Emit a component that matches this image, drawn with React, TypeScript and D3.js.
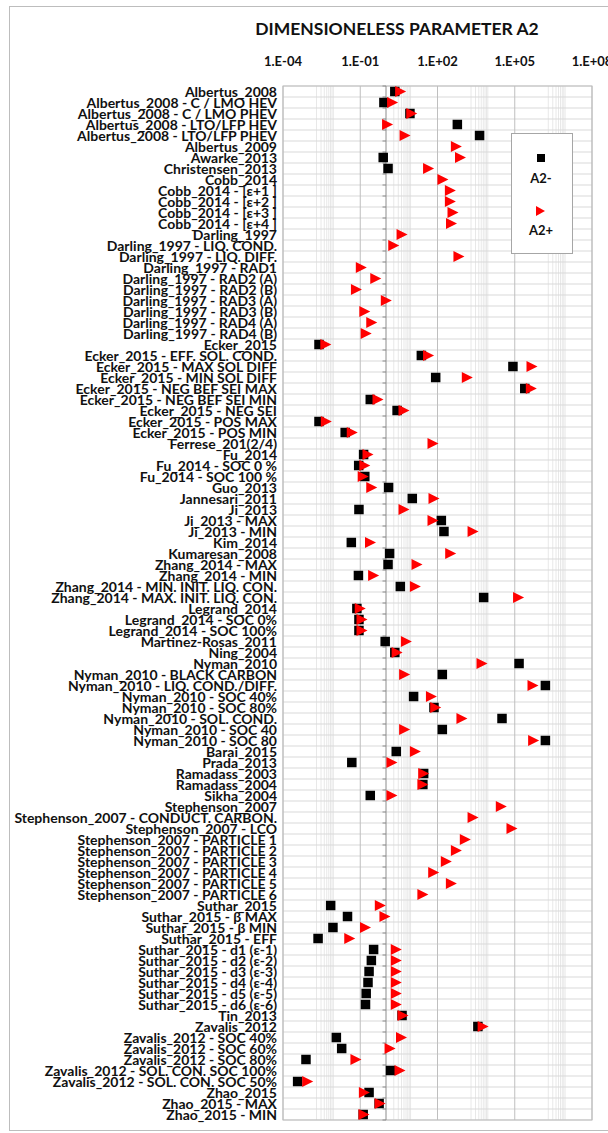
import { useEffect, useRef } from 'react';
import * as d3 from 'd3';

const categories: string[] = [
  'Albertus_2008', 'Albertus_2008 - C / LMO HEV', 'Albertus_2008 - C / LMO PHEV',
  'Albertus_2008 - LTO/LFP HEV', 'Albertus_2008 - LTO/LFP PHEV', 'Albertus_2009',
  'Awarke_2013', 'Christensen_2013', 'Cobb_2014', 'Cobb_2014 - [ε+1 ]', 'Cobb_2014 - [ε+2 ]',
  'Cobb_2014 - [ε+3 ]', 'Cobb_2014 - [ε+4 ]', 'Darling_1997', 'Darling_1997 - LIQ. COND.',
  'Darling_1997 - LIQ. DIFF.', 'Darling_1997 - RAD1', 'Darling_1997 - RAD2 (A)',
  'Darling_1997 - RAD2 (B)', 'Darling_1997 - RAD3 (A)', 'Darling_1997 - RAD3 (B)',
  'Darling_1997 - RAD4 (A)', 'Darling_1997 - RAD4 (B)', 'Ecker_2015',
  'Ecker_2015 - EFF. SOL. COND.', 'Ecker_2015 - MAX SOL DIFF', 'Ecker_2015 - MIN SOL DIFF',
  'Ecker_2015 - NEG BEF SEI MAX', 'Ecker_2015 - NEG BEF SEI MIN', 'Ecker_2015 - NEG SEI',
  'Ecker_2015 - POS MAX', 'Ecker_2015 - POS MIN', 'Ferrese_201(2/4)', 'Fu_2014',
  'Fu_2014 - SOC 0 %', 'Fu_2014 - SOC 100 %', 'Guo_2013', 'Jannesari_2011', 'Ji_2013',
  'Ji_2013 - MAX', 'Ji_2013 - MIN', 'Kim_2014', 'Kumaresan_2008', 'Zhang_2014 - MAX',
  'Zhang_2014 - MIN', 'Zhang_2014 - MIN. INIT. LIQ. CON.', 'Zhang_2014 - MAX. INIT. LIQ. CON.',
  'Legrand_2014', 'Legrand_2014 - SOC 0%', 'Legrand_2014 - SOC 100%', 'Martinez-Rosas_2011',
  'Ning_2004', 'Nyman_2010', 'Nyman_2010 - BLACK CARBON', 'Nyman_2010 - LIQ. COND./DIFF.',
  'Nyman_2010 - SOC 40%', 'Nyman_2010 - SOC 80%', 'Nyman_2010 - SOL. COND.',
  'Nyman_2010 - SOC 40', 'Nyman_2010 - SOC 80', 'Barai_2015', 'Prada_2013', 'Ramadass_2003',
  'Ramadass_2004', 'Sikha_2004', 'Stephenson_2007', 'Stephenson_2007 - CONDUCT. CARBON.',
  'Stephenson_2007 - LCO', 'Stephenson_2007 - PARTICLE 1', 'Stephenson_2007 - PARTICLE 2',
  'Stephenson_2007 - PARTICLE 3', 'Stephenson_2007 - PARTICLE 4', 'Stephenson_2007 - PARTICLE 5',
  'Stephenson_2007 - PARTICLE 6', 'Suthar_2015', 'Suthar_2015 - β MAX', 'Suthar_2015 - β MIN',
  'Suthar_2015 - EFF', 'Suthar_2015 - d1 (ε-1)', 'Suthar_2015 - d2 (ε-2)', 'Suthar_2015 - d3 (ε-3)',
  'Suthar_2015 - d4 (ε-4)', 'Suthar_2015 - d5 (ε-5)', 'Suthar_2015 - d6 (ε-6)', 'Tin_2013',
  'Zavalis_2012', 'Zavalis_2012 - SOC 40%', 'Zavalis_2012 - SOC 60%', 'Zavalis_2012 - SOC 80%',
  'Zavalis_2012 - SOL. CON. SOC 100%', 'Zavalis_2012 - SOL. CON. SOC 50%', 'Zhao_2015',
  'Zhao_2015 - MAX', 'Zhao_2015 - MIN',
];

// A2- (black squares), null = no value
const a2Minus: (number | null)[] = [
  2.2, 0.83, 8.5, 590, 4300, null, 0.78, 1.2, null, null, null, null, null,
  null, null, null, null, null, null, null, null, null, null,
  0.0025, 23.6, 85000, 85, 245000, 0.245, 2.7, 0.0025, 0.026, null,
  0.135, 0.087, 0.15, 1.26, 10.5, 0.089, 141, 178, 0.045, 1.38, 1.2, 0.085, 3.6, 6200,
  0.074, 0.089, 0.089, 0.93, 2.2, 147000, 154, 1.55e6, 11.8, 73, 32000, 154, 1.55e6,
  2.5, 0.047, 29, 27, 0.245, null, null, null, null, null, null, null, null, null,
  0.0071, 0.032, 0.0087, 0.0023, 0.33, 0.27, 0.22, 0.2, 0.17, 0.16, 4.2,
  3700, 0.0118, 0.019, 0.00078, 1.5, 0.00037, 0.22, 0.54, 0.13,
];

// A2+ (red triangles)
const a2Plus: (number | null)[] = [
  3.7, 1.8, 10, 1.15, 5.5, 540, 780, 45, 163, 316, 316, 400, 350,
  4.2, 2.0, 680, 0.11, 0.4, 0.071, 1.03, 0.15, 0.28, 0.17,
  0.0046, 45, 468000, 1440, 440000, 0.49, 5.0, 0.0048, 0.049, 67,
  0.2, 0.15, 0.13, 0.28, 73, 5.0, 67, 2400, 0.25, 325, 16, 0.33, 13.8, 141000,
  0.1, 0.117, 0.117, 6.2, 2.7, 5350, 5.3, 510000, 58, 85, 890, 5.3, 540000,
  13.8, 1.7, 29, 27, 1.7, 30000, 2400, 78000, 1200, 540, 220, 71, 345, 27,
  0.6, 0.91, 0.16, 0.039, 2.5, 2.5, 2.5, 2.5, 2.5, 2.5, 4.6,
  5900, 4.0, 1.44, 0.068, 3.5, 0.00091, 0.145, 0.59, 0.14,
];

const majorTicks = [1e-4, 1e-1, 1e2, 1e5, 1e8];
const tickLabels = ['1.E-04', '1.E-01', '1.E+02', '1.E+05', '1.E+08'];

const FONT = 'Lato, "Open Sans", sans-serif';

export default function App() {
  const svgRef = useRef<SVGSVGElement>(null);
  const width = 608;
  const height = 1133;

  useEffect(() => {
    if (!svgRef.current) return;
    const svg = d3.select(svgRef.current);
    svg.selectAll('*').remove();

    const left = 283, right = 592, top = 86, bottom = 1120;
    const x = d3.scaleLog().domain([1e-4, 1e8]).range([left, right]);
    const y = d3.scaleBand<string>().domain(categories).range([top, bottom]);
    const bw = y.bandwidth();

    // chart area border
    svg.append('rect')
      .attr('x', 9.5).attr('y', 6.5)
      .attr('width', 640).attr('height', 1124)
      .attr('fill', '#fff').attr('stroke', '#bdbdbd');

    svg.append('text')
      .attr('x', 397).attr('y', 35)
      .attr('text-anchor', 'middle')
      .attr('font-family', FONT).attr('font-weight', 700).attr('font-size', 17.5)
      .attr('fill', '#111')
      .text('DIMENSIONELESS PARAMETER A2');

    const g = svg.append('g');

    // minor vertical gridlines (k * 10^(m+1))
    const minor: number[] = [];
    majorTicks.slice(0, -1).forEach(m => {
      for (let k = 2; k <= 9; k++) minor.push(k * m * 10);
    });
    g.selectAll('line.minor').data(minor).enter().append('line')
      .attr('class', 'minor')
      .attr('x1', d => x(d)).attr('x2', d => x(d))
      .attr('y1', top).attr('y2', bottom)
      .attr('stroke', '#e8e8e8').attr('stroke-width', 1);

    // horizontal gridlines at category boundaries
    const bounds = d3.range(categories.length + 1).map(i => top + i * bw);
    g.selectAll('line.hgrid').data(bounds).enter().append('line')
      .attr('class', 'hgrid')
      .attr('x1', left).attr('x2', right)
      .attr('y1', d => d).attr('y2', d => d)
      .attr('stroke', '#d9d9d9').attr('stroke-width', 1);

    // major vertical gridlines
    g.selectAll('line.major').data(majorTicks).enter().append('line')
      .attr('class', 'major')
      .attr('x1', d => x(d)).attr('x2', d => x(d))
      .attr('y1', top).attr('y2', bottom)
      .attr('stroke', '#bfbfbf').attr('stroke-width', 1);

    g.append('rect')
      .attr('x', left).attr('y', top)
      .attr('width', right - left).attr('height', bottom - top)
      .attr('fill', 'none').attr('stroke', '#bdbdbd');

    // category axis crossing at 1
    const ax = x(1);
    g.append('line')
      .attr('x1', ax).attr('x2', ax).attr('y1', top).attr('y2', bottom)
      .attr('stroke', '#8c8c8c').attr('stroke-width', 1);
    g.selectAll('line.tick').data(bounds).enter().append('line')
      .attr('class', 'tick')
      .attr('x1', ax - 3.5).attr('x2', ax)
      .attr('y1', d => d).attr('y2', d => d)
      .attr('stroke', '#8c8c8c');

    // tick labels
    svg.selectAll('text.xt').data(majorTicks).enter().append('text')
      .attr('class', 'xt')
      .attr('x', d => x(d)).attr('y', 66)
      .attr('text-anchor', 'middle')
      .attr('font-family', FONT).attr('font-weight', 700).attr('font-size', 13)
      .attr('fill', '#111')
      .text((_, i) => tickLabels[i]);

    // category labels
    svg.selectAll('text.cat').data(categories).enter().append('text')
      .attr('class', 'cat')
      .attr('x', 277)
      .attr('y', d => (y(d) as number) + bw / 2 + 5)
      .attr('text-anchor', 'end')
      .attr('font-family', FONT).attr('font-weight', 700).attr('font-size', 14)
      .attr('fill', '#111')
      .text(d => d);

    const sq = 9.5;
    const minusData = categories.map((c, i) => ({ c, v: a2Minus[i] })).filter(d => d.v != null);
    g.selectAll('rect.m').data(minusData).enter().append('rect')
      .attr('class', 'm')
      .attr('x', d => x(d.v as number) - sq / 2)
      .attr('y', d => (y(d.c) as number) + bw / 2 - sq / 2)
      .attr('width', sq).attr('height', sq)
      .attr('fill', '#000');

    const tri = (cx: number, cy: number) =>
      `M${cx - 5.5},${cy - 5.5}L${cx + 5.5},${cy}L${cx - 5.5},${cy + 5.5}Z`;
    const plusData = categories.map((c, i) => ({ c, v: a2Plus[i] })).filter(d => d.v != null);
    g.selectAll('path.p').data(plusData).enter().append('path')
      .attr('class', 'p')
      .attr('d', d => tri(x(d.v as number), (y(d.c) as number) + bw / 2))
      .attr('fill', '#ff0000');

    // legend
    const lg = svg.append('g');
    lg.append('rect')
      .attr('x', 511.5).attr('y', 133.5).attr('width', 61).attr('height', 120)
      .attr('fill', '#fff').attr('stroke', '#a6a6a6');
    lg.append('rect')
      .attr('x', 541 - 4).attr('y', 158 - 4).attr('width', 8).attr('height', 8)
      .attr('fill', '#000');
    lg.append('text')
      .attr('x', 541).attr('y', 183).attr('text-anchor', 'middle')
      .attr('font-family', FONT).attr('font-weight', 700).attr('font-size', 13)
      .attr('fill', '#111').text('A2-');
    lg.append('path').attr('d', `M536,206L545,211L536,216Z`).attr('fill', '#ff0000');
    lg.append('text')
      .attr('x', 541).attr('y', 235).attr('text-anchor', 'middle')
      .attr('font-family', FONT).attr('font-weight', 700).attr('font-size', 13)
      .attr('fill', '#111').text('A2+');
  }, []);

  return (
    <div style={{ position: 'absolute', left: 0, top: 0 }}>
      <svg ref={svgRef} width={width} height={height} style={{ display: 'block' }}></svg>
    </div>
  );
}
